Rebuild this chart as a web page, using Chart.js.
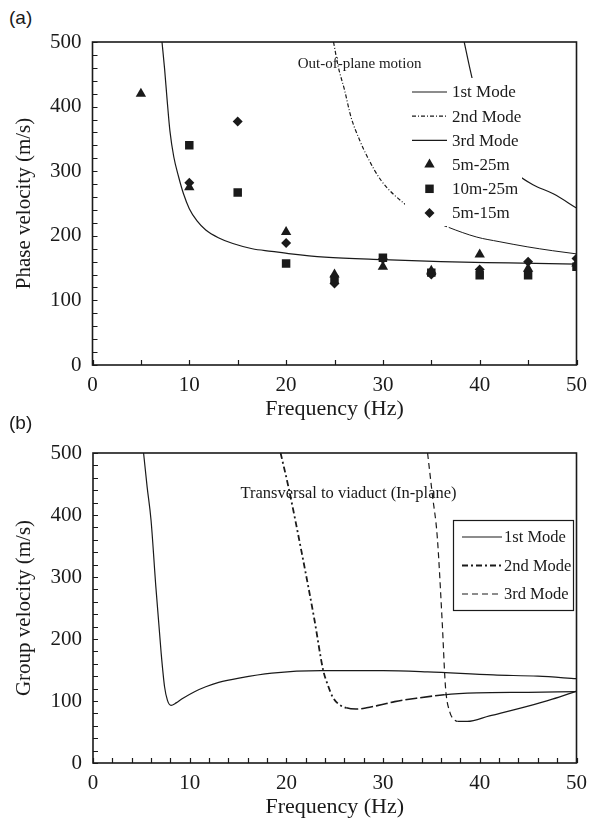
<!DOCTYPE html>
<html>
<head>
<meta charset="utf-8">
<script src="https://cdn.jsdelivr.net/npm/chart.js@4/dist/chart.umd.min.js"></script>
<style>
  html, body { margin: 0; padding: 0; background: #fff; }
  #wrap { position: relative; width: 595px; height: 825px; overflow: hidden; }
  canvas { position: absolute; left: 0; }
  #ca { top: 0; }
  #cb { top: 425px; }
  .tag { position: absolute; left: 9px; font: 19px "Liberation Sans", Arial, sans-serif; color: #1a1a1a; line-height: 20px; }
</style>
</head>
<body>
<div id="wrap">
  <div class="tag" style="top:8px">(a)</div>
  <canvas id="ca" width="595" height="425"></canvas>
  <div class="tag" style="top:413px">(b)</div>
  <canvas id="cb" width="595" height="400"></canvas>
</div>
<script>
// ---- Phase velocity, out-of-plane motion: [frequency (Hz), velocity (m/s)] ----
const phaseMode1 = [[7.18,500],[7.45,458],[7.7,412],[8.0,362],[8.4,322],[8.9,291],[9.4,265],[10.0,242],[10.8,223],[11.7,209],[13.0,197],[14.5,188],[16.5,180],[18.5,176],[20.5,172],[24,167],[30,163],[36,160],[43,158],[50,156]];
const phaseMode2 = [[24.9,500],[25.4,461],[26.05,425],[26.7,384],[27.6,348],[28.4,322],[29.8,286],[32.2,250],[34.5,228],[36.8,213],[39.7,198],[42,191],[44.9,183],[47.5,177],[50,172]];
const phaseMode3 = [[38.4,500],[39.0,458],[39.6,420],[40.3,385],[41.2,350],[42.2,322],[43.8,296],[45.5,279],[47.6,265],[50,243]];

// Field measurements (receiver spacings)
const testFreq = [5, 10, 15, 20, 25, 30, 35, 40, 45, 50];
const v5m25m  = [420, 275, null, 206, 140, 152, 146, 171, 149, 157];
const v10m25m = [null, 340, 267, 157, 132, 166, 143, 139, 139, 152];
const v5m15m  = [null, 282, 377, 189, 126, 164, 140, 148, 160, 165];

// ---- Group velocity, transversal to viaduct (in-plane) ----
const groupMode1 = [[5.23,500],[5.6,445],[6.0,392],[6.5,284],[7.05,177],[7.4,123],[7.7,101],[8.07,93],[8.6,97],[9.26,104],[10.5,115],[11.66,123],[13,130],[15.1,137],[18.5,145],[23.6,149],[30,149],[34.6,147],[41.4,142],[46,140],[50,136]];
const groupMode2 = [[19.4,500],[20.2,446],[21.6,338],[22.9,231],[23.8,150],[24.3,125],[24.8,106],[25.4,95],[26.2,89],[27.2,87],[28.3,89],[29.8,94],[31.2,99],[33.7,105],[36.3,110],[39.7,113],[45,114],[50,115]];
const groupMode3 = [[34.6,500],[35.1,432],[35.6,365],[36.1,231],[36.45,123],[36.9,82],[37.3,71],[37.7,67],[38.7,67],[41,76],[44.8,91],[47.5,103],[50,116]];

// Axis ranges
const freqRange = [0, 50];
const velRange = [0, 500];

const SERIF = '"Liberation Serif", "Times New Roman", serif';
const INK = '#1a1a1a';

const toXY = pairs => pairs.map(([x, y]) => ({ x, y }));
const toPts = vals => testFreq.map((f, i) => vals[i] == null ? null : { x: f, y: vals[i] }).filter(Boolean);

// A curve; optional "breaks" switch the stroke style past a given frequency
function curve(label, pairs, dash, width, breaks) {
  const ds = {
    label, data: toXY(pairs), showLine: true, pointRadius: 0,
    borderColor: INK, borderWidth: width || 1.2, borderDash: dash || [],
    cubicInterpolationMode: 'monotone', order: 2, kind: 'line'
  };
  if (breaks) {
    const pick = c => {
      let s = { dash: ds.borderDash, width: ds.borderWidth };
      breaks.forEach(b => { if (c.p0.parsed.x >= b.from) s = b; });
      return s;
    };
    ds.segment = { borderDash: c => pick(c).dash, borderWidth: c => pick(c).width };
  }
  return ds;
}
function marks(label, vals, style, r) {
  return {
    label, data: toPts(vals), showLine: false, pointStyle: style, pointRadius: r,
    backgroundColor: INK, borderColor: INK, borderWidth: 0, order: 1, kind: 'point'
  };
}

// Box around the plot + inward tick marks
const frame = {
  id: 'frame',
  afterDatasetsDraw(chart) {
    const { ctx, chartArea: a, scales: { x, y } } = chart;
    ctx.save();
    ctx.strokeStyle = INK;
    ctx.lineWidth = 1.2;
    ctx.beginPath();
    x.ticks.forEach(t => {
      const px = Math.round(x.getPixelForValue(t.value)) + 0.5;
      ctx.moveTo(px, a.bottom); ctx.lineTo(px, a.bottom - 5);
    });
    y.ticks.forEach(t => {
      const py = Math.round(y.getPixelForValue(t.value)) + 0.5;
      ctx.moveTo(a.left, py); ctx.lineTo(a.left + 5, py);
    });
    ctx.stroke();
    ctx.lineWidth = 1.6;
    ctx.strokeRect(a.left, a.top, a.right - a.left, a.bottom - a.top);
    ctx.restore();
  }
};

// In-plot legend and caption
const keyPlugin = {
  id: 'key',
  afterDatasetsDraw(chart, args, o) {
    const { ctx } = chart;
    ctx.save();
    if (o.box) {
      const b = o.box;
      ctx.fillStyle = '#fff';
      ctx.fillRect(b.l, b.t, b.r - b.l, b.b - b.t);
      if (o.border) {
        ctx.strokeStyle = INK; ctx.lineWidth = 1.2;
        ctx.strokeRect(b.l + 0.5, b.t + 0.5, b.r - b.l, b.b - b.t);
      }
    }
    ctx.font = o.fontSize + 'px ' + SERIF;
    ctx.textBaseline = 'middle';
    ctx.textAlign = 'left';
    chart.data.datasets.forEach((ds, i) => {
      const yy = o.y0 + i * o.dy;
      if (ds.kind === 'line') {
        ctx.strokeStyle = INK;
        ctx.lineWidth = ds.borderWidth;
        ctx.setLineDash(ds.borderDash);
        ctx.beginPath();
        ctx.moveTo(o.x0, yy); ctx.lineTo(o.x0 + o.len, yy);
        ctx.stroke();
        ctx.setLineDash([]);
      } else {
        ctx.fillStyle = INK;
        Chart.helpers.drawPoint(ctx, { pointStyle: ds.pointStyle, radius: ds.pointRadius, borderWidth: 0 }, o.x0 + o.len / 2, yy);
      }
      ctx.fillStyle = INK;
      ctx.fillText(ds.label, o.tx, yy + 1);
    });
    // caption placed in data coordinates
    const c = o.caption;
    ctx.font = c.size + 'px ' + SERIF;
    ctx.fillStyle = INK;
    ctx.fillText(c.text, chart.scales.x.getPixelForValue(c.f), chart.scales.y.getPixelForValue(c.v));
    ctx.restore();
  }
};

function makeChart(id, cfg) {
  return new Chart(document.getElementById(id), {
    type: 'scatter',
    data: { datasets: cfg.datasets },
    plugins: [frame, keyPlugin],
    options: {
      responsive: false, animation: false, events: [],
      layout: { padding: { left: 0, right: 14.5, top: cfg.top, bottom: 0 } },
      plugins: { legend: { display: false }, tooltip: { enabled: false }, key: cfg.key },
      scales: {
        x: {
          type: 'linear', min: freqRange[0], max: freqRange[1],
          grid: { display: false, drawTicks: false }, border: { display: false },
          ticks: {
            stepSize: cfg.xStep, autoSkip: false, maxRotation: 0, padding: 8,
            color: INK, font: { family: SERIF, size: 21 },
            callback: v => (v % 10 === 0 ? String(v) : '')
          },
          title: { display: true, text: 'Frequency (Hz)', color: INK, font: { family: SERIF, size: 22 }, padding: { top: 0, bottom: cfg.xTitlePad } },
          afterFit: s => { s.height = cfg.xHeight; }
        },
        y: {
          type: 'linear', min: velRange[0], max: velRange[1],
          grid: { display: false, drawTicks: false }, border: { display: false },
          ticks: {
            stepSize: 20, autoSkip: false, padding: 11,
            color: INK, font: { family: SERIF, size: 21 },
            callback: v => (v % 100 === 0 ? String(v) : '')
          },
          title: { display: true, text: cfg.yTitle, color: INK, font: { family: SERIF, size: 21 }, padding: { top: 12, bottom: 0 } },
          afterFit: s => { s.width = cfg.yWidth; }
        }
      }
    }
  });
}

makeChart('ca', {
  top: 42, xHeight: 60, yWidth: 92.5, xStep: 5, xTitlePad: 3,
  yTitle: 'Phase velocity (m/s)',
  datasets: [
    curve('1st Mode', phaseMode1, []),
    curve('2nd Mode', phaseMode2, [4, 2, 1, 2], 1.2, [{ from: 36, dash: [], width: 1 }]),
    curve('3rd Mode', phaseMode3, []),
    marks('5m-25m', v5m25m, 'triangle', 6),
    marks('10m-25m', v10m25m, 'rect', 6),
    marks('5m-15m', v5m15m, 'rectRot', 5)
  ],
  key: {
    box: { l: 405, t: 78, r: 522, b: 226 }, border: false,
    x0: 412, len: 35, tx: 452, y0: 92, dy: 24.2, fontSize: 17,
    caption: { text: 'Out-of-plane motion', f: 21.2, v: 466, size: 15 }
  }
});

makeChart('cb', {
  top: 28, xHeight: 62, yWidth: 93, xStep: 2, xTitlePad: 5,
  yTitle: 'Group velocity (m/s)',
  datasets: [
    curve('1st Mode', groupMode1, []),
    curve('2nd Mode', groupMode2, [6, 3, 2, 3], 1.8, [{ from: 26, dash: [12, 3], width: 1.6 }, { from: 36.3, dash: [], width: 1.2 }]),
    curve('3rd Mode', groupMode3, [6, 4], 1.2, [{ from: 37.7, dash: [], width: 1.2 }])
  ],
  key: {
    box: { l: 453, t: 95, r: 573, b: 185 }, border: true,
    x0: 462, len: 40, tx: 504, y0: 112, dy: 28.5, fontSize: 16.5,
    caption: { text: 'Transversal to viaduct (In-plane)', f: 15.25, v: 435, size: 16.5 }
  }
});
</script>
</body>
</html>
